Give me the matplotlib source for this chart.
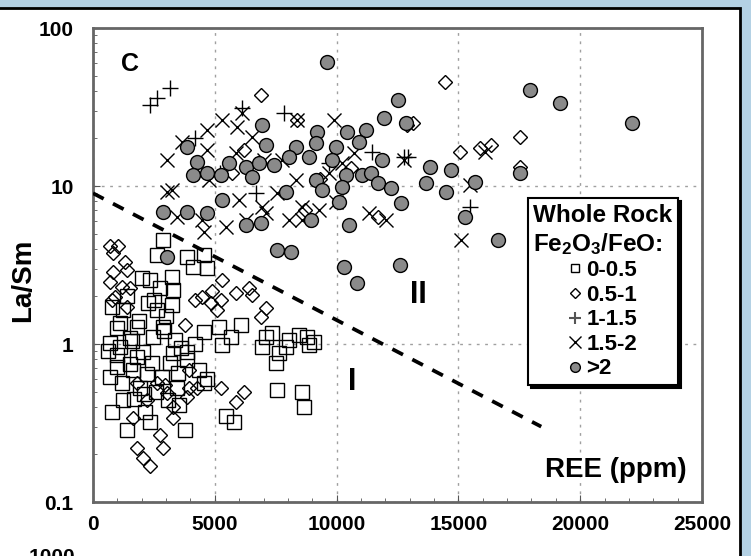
import matplotlib
matplotlib.use("Agg")
import matplotlib.pyplot as plt
import matplotlib.patches as patches
from matplotlib.lines import Line2D
from matplotlib.ticker import MultipleLocator, LogLocator, NullFormatter

plt.rcParams['font.family'] = ['Liberation Sans', 'DejaVu Sans']
plt.rcParams['font.weight'] = 'bold'
plt.rcParams['mathtext.fontset'] = 'custom'
plt.rcParams['mathtext.rm'] = 'Liberation Sans:bold'
plt.rcParams['mathtext.it'] = 'Liberation Sans:bold'
plt.rcParams['mathtext.bf'] = 'Liberation Sans:bold'

# Fe2O3/FeO 0-0.5 (squares)
sq_x = [2860, 2610, 3840, 4575, 4700, 4085, 2740, 3230, 2330, 2250, 3230, 780, 1230, 2610,
        4575, 5190, 5680, 6090, 5310, 980, 1800, 2860, 1100, 1510, 2040, 2450, 3350,
        7110, 6940, 7350, 7640, 7520, 8050, 8460, 8780, 8860, 9070, 7930,
        7560, 8580, 8660, 5470, 5800, 1390, 2330, 3760, 780, 1230, 1185, 980, 1630,
        1920, 2410, 3150, 2820, 3470, 3840, 4370, 4575, 3060, 980, 695, 1800, 3270,
        3840, 3430, 3550, 2120, 1400, 2000, 2500, 1900, 3000, 600, 1500, 2200, 1700,
        2600, 3600, 4200, 4700, 1100, 2900, 1600, 3300, 700, 2100]
sq_y = [4.55, 3.66, 3.55, 3.66, 3.03, 3.07, 2.26, 2.65, 2.54, 1.82, 1.77, 1.72, 1.64, 1.64,
        1.19, 1.28, 1.11, 1.32, 0.99, 1.26, 1.28, 1.28, 0.96, 1.09, 0.89, 1.11, 1.06,
        1.11, 0.96, 1.17, 0.88, 0.76, 1.06, 1.14, 1.11, 0.99, 1.03, 0.96,
        0.51, 0.50, 0.40, 0.35, 0.32, 0.285, 0.32, 0.285, 0.37, 0.44, 0.57, 0.72, 0.68,
        0.53, 0.76, 0.76, 0.62, 0.66, 0.79, 0.68, 0.57, 0.44, 0.85, 1.01, 0.83, 0.88,
        0.89, 0.53, 0.41, 0.37, 2.0, 2.6, 1.9, 1.4, 1.5, 0.9, 0.75, 0.65, 0.45,
        0.5, 0.95, 1.0, 0.6, 1.35, 1.2, 1.05, 2.2, 0.62, 0.48]

# Fe2O3/FeO 0.5-1 (diamonds)
dm_x = [695, 1020, 820, 1310, 820, 1390, 695, 1185, 1510, 900, 1390, 780,
        5310, 4900, 4490, 4170, 4860, 5270, 5070, 5880, 6410, 6540, 7110, 6900, 3760,
        5270, 5880, 6210, 3960, 4250, 3840, 3020, 2610, 2200, 3270, 3270, 1630, 2740,
        2860, 1800, 2040, 2330, 3960, 2940, 1800,
        6900, 8370, 12870, 11720, 14460, 17530, 15070, 15890, 16340, 17530, 13150,
        5700, 9300, 10600, 8700, 6200]
dm_y = [4.2, 4.2, 3.77, 3.3, 2.86, 2.94, 2.47, 2.3, 2.26, 1.98, 1.72, 1.9,
        2.54, 2.18, 1.98, 1.9, 1.82, 1.9, 1.64, 2.1, 2.26, 2.04, 1.69, 1.48, 1.32,
        0.53, 0.43, 0.50, 0.68, 0.53, 0.46, 0.49, 0.57, 0.44, 0.40, 0.34, 0.34, 0.265,
        0.22, 0.22, 0.19, 0.17, 0.53, 0.55, 0.57,
        37.7, 26, 24.4, 6.4, 45.6, 20.5, 16.4, 17.4, 18.2, 13.2, 25,
        12, 11, 13, 7, 17]

# Fe2O3/FeO 1-1.5 (plus)
pl_x = [2330, 2610, 3150, 6130, 7840, 11440, 12950, 15480, 12750, 4200, 9700, 6700, 5200]
pl_y = [32.6, 36, 41.6, 31, 29, 16.4, 15.3, 7.37, 15.3, 20, 14, 9, 12]

# Fe2O3/FeO 1.5-2 (crosses)
cr_x = [3020, 3230, 3640, 4660, 5310, 5920, 6130, 6540, 5880, 7030, 6000, 6940, 7110,
        7560, 5470, 4490, 8050, 8580, 9890, 9680, 9970, 11320, 12010, 12750, 8370,
        4700, 4780, 8330, 10210, 7760, 6290, 8580, 9270, 10700, 3430, 4575, 3020,
        15110, 16090, 15480]
cr_y = [14.6, 9.4, 19, 22.6, 26, 23.6, 29, 20.5, 16.2, 14.6, 8.2, 7.4, 6.7,
        9, 5.5, 6.1, 6.1, 7.4, 26, 12.1, 7.9, 6.7, 6.1, 14.6, 26,
        16.9, 10.9, 10.9, 13.9, 14.6, 6.1, 6.1, 7.1, 16.2, 6.4, 5.1, 9.2,
        4.55, 16.4, 10.1]

# Fe2O3/FeO >2 (grey circles)
ci_x = [9600, 12540, 11930, 12830, 6940, 9190, 10420, 11190, 7110, 8330, 9150, 9970,
        10910, 3840, 11850, 4250, 5600, 6290, 6820, 7430, 8050, 8860, 9800, 10380,
        4085, 4700, 5270, 6540, 9150, 11030, 11400, 11720, 12250, 10210, 9400, 7930,
        12660, 5310, 10090, 2860, 3840, 4660, 6290, 6900, 8950, 10500,
        7560, 8130, 10290, 10830, 12620, 3020,
        17930, 19160, 22140, 13850, 14710, 13690, 14500, 15690, 17530, 15280, 16630]
ci_y = [61, 35, 27, 25, 24.4, 22, 22, 22.6, 18.2, 17.6, 18.7, 17.6,
        19, 17.6, 14.6, 14.2, 13.9, 13.2, 13.9, 13.6, 15.3, 15.3, 14.6, 11.7,
        11.7, 12.1, 11.7, 11.4, 10.9, 11.7, 12.1, 10.4, 9.7, 9.9, 9.4, 9.2,
        7.8, 8.1, 7.9, 6.8, 6.8, 6.7, 5.66, 5.8, 6.1, 5.66,
        3.94, 3.82, 3.07, 2.43, 3.16, 3.55,
        40.5, 33.5, 25, 13.2, 12.6, 10.4, 9.2, 10.6, 12.1, 6.4, 4.55]

# boundary between fields I and II
line_x = [0, 18400]
line_y = [9.0, 0.30]

labels = ['0-0.5', '0.5-1', '1-1.5', '1.5-2', '>2']
x_ticks = [0, 5000, 10000, 15000, 20000, 25000]
y_ticks = [0.1, 1, 10, 100]

fig = plt.figure(figsize=(7.51, 5.56), dpi=100)
fig.patch.set_facecolor('#b4d1e4')
fig.add_artist(patches.Rectangle((-0.02, -0.02), 740/751 + 0.02, 548/556 + 0.02,
                                 transform=fig.transFigure, facecolor='white',
                                 edgecolor='black', lw=2, zorder=0))

ax = fig.add_axes([93/751, 54/556, 609/751, 474/556])
ax.set_yscale('log')
ax.set_xlim(0, 25000)
ax.set_ylim(0.1, 100)

mew = 1.0
ax.plot(sq_x, sq_y, 's', ms=9.5, mfc='none', mec='black', mew=mew, zorder=3)
ax.plot(dm_x, dm_y, 'D', ms=7, mfc='none', mec='black', mew=mew, zorder=3)
ax.plot(pl_x, pl_y, '+', ms=11, mec='black', mew=mew, zorder=3)
ax.plot(cr_x, cr_y, 'x', ms=9.5, mec='black', mew=mew, zorder=3)
ax.plot(ci_x, ci_y, 'o', ms=10, mfc='#8a8a8a', mec='black', mew=mew, zorder=4)

ax.plot(line_x, line_y, color='black', lw=2.7, dashes=(3.2, 2.8), zorder=5)

ax.set_xticks(x_ticks, labels=[str(v) for v in x_ticks])
ax.set_yticks(y_ticks, labels=['0.1', '1', '10', '100'])
ax.xaxis.set_minor_locator(MultipleLocator(1000))
ax.yaxis.set_minor_locator(LogLocator(subs=range(2, 10)))
ax.yaxis.set_minor_formatter(NullFormatter())
ax.tick_params(which='both', direction='in', colors='#555555', labelcolor='black', labelsize=15)
ax.tick_params(which='major', length=5)
ax.tick_params(which='minor', length=3)
ax.tick_params(axis='y', pad=14)
ax.tick_params(axis='x', pad=9)
for s in ax.spines.values():
    s.set_color('#666666')
    s.set_linewidth(2)

ax.grid(True, which='major', color='#a0a0a0', lw=1, linestyle=(0, (2, 4)))

ax.text(0.061, 0.924, 'C', transform=ax.transAxes, fontsize=18, ha='center', va='center')
ax.text(0.534, 0.437, 'II', transform=ax.transAxes, fontsize=22, ha='center', va='center')
ax.text(0.425, 0.253, 'I', transform=ax.transAxes, fontsize=22, ha='center', va='center')
ax.text(0.859, 0.0675, 'REE (ppm)', transform=ax.transAxes, fontsize=20, ha='center', va='center')

fig.text(23/751, 1 - 280/556, 'La/Sm', rotation=90, fontsize=20, ha='center', va='center')
fig.text(52/751, 8/556, '1000', fontsize=15, ha='center', va='top')

handles = [
    Line2D([], [], ls='none', marker='s', ms=6, mfc='none', mec='black', mew=1),
    Line2D([], [], ls='none', marker='D', ms=5, mfc='none', mec='black', mew=1),
    Line2D([], [], ls='none', marker='+', ms=8, mec='#555555', mew=1.5),
    Line2D([], [], ls='none', marker='x', ms=8, mec='black', mew=1),
    Line2D([], [], ls='none', marker='o', ms=7, mfc='#8a8a8a', mec='black', mew=1),
]
leg = ax.legend(handles, labels, title='Whole Rock\n$\\mathrm{Fe_2O_3/FeO}$:',
                loc='upper left', bbox_to_anchor=(0.714, 0.641), borderaxespad=0,
                prop={'size': 16, 'weight': 'bold'},
                title_fontproperties={'size': 17.5, 'weight': 'bold'},
                frameon=True, fancybox=False, framealpha=1, edgecolor='black',
                shadow={'color': 'black', 'alpha': 1},
                handlelength=0.6, handletextpad=0.2, labelspacing=0.16,
                borderpad=0.25, markerfirst=True)
leg.get_frame().set_linewidth(1.5)
leg.set_zorder(10)

fig.savefig('out.png', dpi=100, facecolor=fig.get_facecolor())
